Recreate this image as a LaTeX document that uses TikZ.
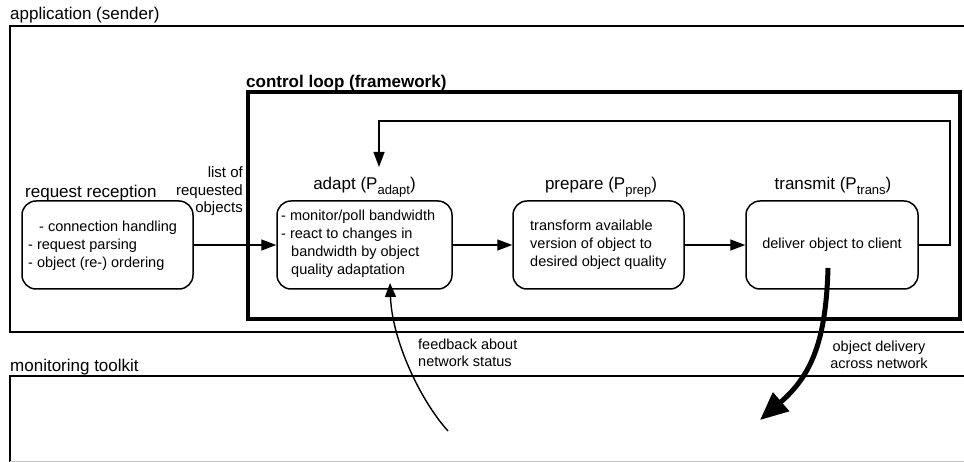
\documentclass[tikz,border=0pt]{standalone}
\usepackage{fontspec}
\setmainfont{Liberation Sans}
\usetikzlibrary{arrows.meta}

\newcommand{\bodysize}{\fontsize{14.5}{18}\selectfont}
\newcommand{\notesize}{\fontsize{14.5}{17}\selectfont}
\newcommand{\labelsize}{\fontsize{17}{20}\selectfont}
\newcommand{\lowtext}[1]{\raisebox{-4.5pt}{\fontsize{13}{13}\selectfont #1}}

\begin{document}
\begin{tikzpicture}[x=1pt,y=-1pt,
  frame/.style={line width=1.3pt},
  loopframe/.style={line width=4pt},
  proc/.style={draw, line width=1.5pt, rounded corners=14pt, inner sep=0pt,
               minimum height=88pt},
  body/.style={font=\bodysize, inner sep=0pt},
  note/.style={font=\notesize, inner sep=0pt},
  lbl/.style={font=\labelsize, inner sep=0pt},
  link/.style={line width=1.4pt, -{Triangle[length=15pt,width=11pt]}},
  feedback/.style={line width=1.4pt, -{Triangle[length=14pt,width=11pt]}},
  delivery/.style={line width=5pt, -{Triangle[length=28pt,width=24pt]}},
]
\useasboundingbox (0,0) rectangle (964,462);
\clip (0,0) rectangle (964,462);

% application (sender) area
\draw[frame] (975,26) -- (10,26) -- (10,332) -- (975,332);
\node[lbl, anchor=base west] (applbl) at (10,19.5) {application (sender)};

% monitoring toolkit area
\draw[frame] (975,376) -- (10,376) -- (10,470);
\draw[gray!45, line width=0.8pt] (10,461) -- (975,461);
\node[lbl, anchor=base west] (monlbl) at (10,371) {monitoring toolkit};

% control loop frame
\draw[loopframe] (248,92) rectangle (960,319);
\node[lbl, font=\labelsize\bfseries, anchor=base west] (looplbl) at (246,88) {control loop (framework)};

% process boxes
\node[proc, minimum width=171pt] (req) at (107.5,245) {};
\node[proc, minimum width=175pt] (adapt) at (364.5,245) {};
\node[proc, minimum width=171pt] (prep) at (598.5,245) {};
\node[proc, minimum width=172pt] (trans) at (832,245) {};

% box titles
\node[lbl, anchor=base west] (reqlbl) at (25,198) {request reception};
\node[lbl, anchor=base] (adaptlbl) at (364.5,190) {adapt (P\lowtext{adapt})};
\node[lbl, anchor=base] (preplbl) at (601,190) {prepare (P\lowtext{prep})};
\node[lbl, anchor=base] (translbl) at (833,190) {transmit (P\lowtext{trans})};

% box contents
\node[body, align=left, anchor=west] (reqtxt) at (28,245.4)
  {\hspace*{11pt}- connection handling\\- request parsing\\- object (re-) ordering};
\node[body, align=left, anchor=west] (adapttxt) at (281,244.2)
  {- monitor/poll bandwidth\\- react to changes in\\\hspace*{10pt}bandwidth by object\\\hspace*{10pt}quality adaptation};
\node[body, align=left, anchor=west] (preptxt) at (530,245)
  {transform available\\version of object to\\desired object quality};
\node[body] (transtxt) at (832,245) {deliver object to client};

% annotations
\node[font=\fontsize{15}{17.5}\selectfont, inner sep=0pt, align=right, anchor=east] (listlbl) at (243,191.6)
  {list of\\requested\\objects};
\node[note, align=left, anchor=west] (fblbl) at (418,353)
  {feedback about\\network status};
\node[note, align=center] (dellbl) at (879,354.5)
  {object delivery\\across network};

% connectors
\draw[link] (req.east) -- (adapt.west);
\draw[link] (adapt.east) -- (prep.west);
\draw[link] (prep.east) -- (trans.west);

\coordinate (loopR) at (950,121);
\coordinate (loopL) at (379,121);
\coordinate (adaptIn) at (379,167);
\draw[link] (trans.east) -| (loopR) -- (loopL) -- (adaptIn);

\coordinate (fbStart) at (448,431);
\coordinate (fbEnd) at (390,283);
\draw[feedback] (fbStart) .. controls (420,400) and (392,340) .. (fbEnd);

\coordinate (dlStart) at (828,268);
\coordinate (dlEnd) at (760,420);
\draw[delivery] (dlStart) .. controls (826,340) and (812,375) .. (dlEnd);
\end{tikzpicture}
\end{document}
